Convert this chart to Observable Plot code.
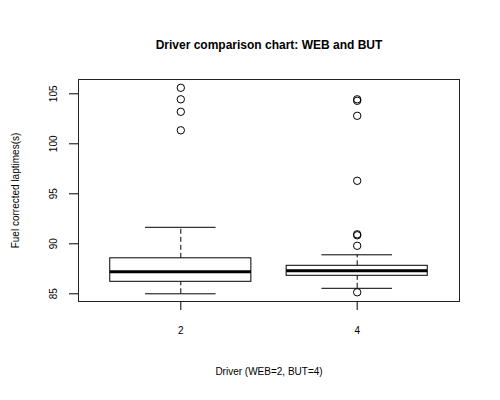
<!DOCTYPE html>
<html><head><meta charset="utf-8">
<script src="https://cdn.jsdelivr.net/npm/d3@7"></script>
<script src="https://cdn.jsdelivr.net/npm/@observablehq/plot@0.6"></script>
<style>body{margin:0;background:#fff}</style>
</head><body><div id="chart"></div>
<script>
const title = "Driver comparison chart: WEB and BUT";
const xTitle = "Driver (WEB=2, BUT=4)";
const yTitle = "Fuel corrected laptimes(s)";
const drivers = ["2", "4"];
const positions = [1, 2];
const lowerWhisker = [85.0, 85.55];
const q1 = [86.2, 86.8];
const median = [87.2, 87.3];
const q3 = [88.55, 87.8];
const upperWhisker = [91.65, 88.9];
const outliersWEB = [101.35, 103.2, 104.45, 105.6];
const outliersBUT = [85.15, 89.8, 90.85, 90.95, 96.3, 102.8, 104.3, 104.45];
const yTicks = [85, 90, 95, 100, 105];

const boxes = drivers.map((d, i) => ({driver: d, pos: positions[i], lo: lowerWhisker[i], q1: q1[i], med: median[i], q3: q3[i], hi: upperWhisker[i]}));
const outliers = [
  ...outliersWEB.map(v => ({pos: positions[0], v})),
  ...outliersBUT.map(v => ({pos: positions[1], v}))
];
const boxHalf = 0.4, capHalf = 0.2;

const chart = Plot.plot({
  width: 500, height: 400,
  marginLeft: 78, marginRight: 41, marginTop: 79, marginBottom: 99,
  style: {fontFamily: "'Liberation Sans', Arial, Helvetica, sans-serif", fontSize: "10px", background: "#fff", color: "#000"},
  x: {domain: [0.42, 2.58], axis: null},
  y: {domain: [84.23, 106.43], axis: null},
  marks: [
    Plot.ruleX(boxes, {x: "pos", y1: "q3", y2: "hi", stroke: "#000", strokeDasharray: "5,3"}),
    Plot.ruleX(boxes, {x: "pos", y1: "lo", y2: "q1", stroke: "#000", strokeDasharray: "5,3"}),
    Plot.ruleY(boxes, {y: "hi", x1: d => d.pos - capHalf, x2: d => d.pos + capHalf, stroke: "#000"}),
    Plot.ruleY(boxes, {y: "lo", x1: d => d.pos - capHalf, x2: d => d.pos + capHalf, stroke: "#000"}),
    Plot.rect(boxes, {x1: d => d.pos - boxHalf, x2: d => d.pos + boxHalf, y1: "q1", y2: "q3", fill: "white", stroke: "#000"}),
    Plot.ruleY(boxes, {y: "med", x1: d => d.pos - boxHalf, x2: d => d.pos + boxHalf, stroke: "#000", strokeWidth: 3}),
    Plot.dot(outliers, {x: "pos", y: "v", r: 3.7, stroke: "#000", fill: "none", strokeWidth: 1}),
    Plot.frame({stroke: "#222"}),
    Plot.axisY({ticks: yTicks, tickSize: 9, tickRotate: -90, tickPadding: 13, label: null, fontSize: 10}),
    Plot.axisX({ticks: positions, tickFormat: d => drivers[positions.indexOf(d)], tickSize: 9, tickPadding: 16, label: null, fontSize: 10}),
    Plot.text([yTitle], {text: d => d, frameAnchor: "left", dx: -63, rotate: -90, textAnchor: "middle", fontSize: 10}),
    Plot.text([xTitle], {text: d => d, frameAnchor: "bottom", dy: 73, fontSize: 10}),
    Plot.text([title], {text: d => d, frameAnchor: "top", dy: -39, fontSize: 12, fontWeight: "bold"})
  ]
});
document.getElementById("chart").appendChild(chart);
</script>
</body></html>
